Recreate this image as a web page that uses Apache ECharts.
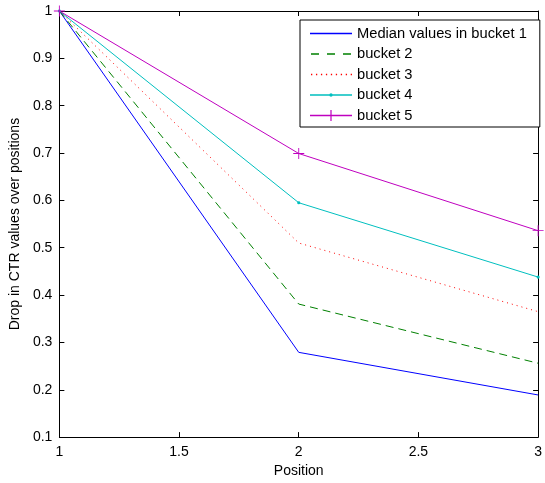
<!DOCTYPE html>
<html>
<head>
<meta charset="utf-8">
<script src="https://cdn.jsdelivr.net/npm/echarts@6/dist/echarts.min.js"></script>
<style>html,body{margin:0;padding:0;background:#fff}#c{width:545px;height:483px}</style>
</head>
<body>
<div id="c"></div>
<script>
const positions = [1, 2, 3];
const seriesNames = ['Median values in bucket 1', 'bucket 2', 'bucket 3', 'bucket 4', 'bucket 5'];
const bucket1 = [1, 0.279, 0.189];
const bucket2 = [1, 0.381, 0.256];
const bucket3 = [1, 0.510, 0.365];
const bucket4 = [1, 0.595, 0.438];
const bucket5 = [1, 0.699, 0.536];
const xTicks = [1, 1.5, 2, 2.5, 3];
const yTicks = [0.1, 0.2, 0.3, 0.4, 0.5, 0.6, 0.7, 0.8, 0.9, 1];
const colors = ['#0000ff', '#008000', '#ff0000', '#00bfbf', '#bf00bf'];
const dashes = ['solid', [8, 5], [1, 4], 'solid', 'solid'];

const FONT = 'Liberation Sans';
const plusPath = 'path://M4.6,0H5.4V4.6H10V5.4H5.4V10H4.6V5.4H0V4.6H4.6Z';
// small dot centred in a 10x10 box (zero-area corner segments keep the box size)
const dotPath = 'path://M0,0L0.001,0L0,0.001ZM10,10L9.999,10L10,9.999ZM6.6,5L6.13,6.13L5,6.6L3.87,6.13L3.4,5L3.87,3.87L5,3.4L6.13,3.87Z';
const symbols = ['none', 'none', 'none', dotPath, plusPath];
const symbolSizes = [0, 0, 0, 10, 11];
const values = [bucket1, bucket2, bucket3, bucket4, bucket5];

// ---- legend swatch icons (42 x 14 box), drawn as filled paths ----
const IW = 42, IH = 14, LT = 1.6;
function rect(x, y, w, h) { return 'M' + x + ',' + y + 'H' + (x + w) + 'V' + (y + h) + 'H' + x + 'Z'; }
const corners = 'M0,0L0.001,0L0,0.001ZM' + IW + ',' + IH + 'L' + (IW - 0.001) + ',' + IH + 'L' + IW + ',' + (IH - 0.001) + 'Z';
const cy = IH / 2 - LT / 2;
const solidLine = rect(0, cy, IW, LT);
let dashedLine = '';
[1, 17, 33].forEach(x => { dashedLine += rect(x, cy, 8, LT); });
let dottedLine = '';
for (let x = 1; x < IW; x += 5) dottedLine += rect(x, cy, 1.3, LT);
const c = IW / 2, m = IH / 2;
const legendDot = 'M' + (c + 1.8) + ',' + m + 'L' + (c + 1.27) + ',' + (m + 1.27) + 'L' + c + ',' + (m + 1.8) +
  'L' + (c - 1.27) + ',' + (m + 1.27) + 'L' + (c - 1.8) + ',' + m + 'L' + (c - 1.27) + ',' + (m - 1.27) +
  'L' + c + ',' + (m - 1.8) + 'L' + (c + 1.27) + ',' + (m - 1.27) + 'Z';
const legendPlus = rect(c - 0.6, m - 5.5, 1.2, 11) + rect(c - 5.5, cy, 11, LT);
const legendIcons = [
  'path://' + corners + solidLine,
  'path://' + corners + dashedLine,
  'path://' + corners + dottedLine,
  'path://' + corners + solidLine + legendDot,
  'path://' + corners + solidLine + legendPlus
];

function pairs(vals) { return positions.map((p, i) => [p, vals[i]]); }
const fmt = v => String(Number(v.toFixed(2)));

const axisCommon = {
  axisLine: { show: true, lineStyle: { color: '#000', width: 1 } },
  axisTick: { show: true, inside: true, length: 5, lineStyle: { color: '#000' } },
  splitLine: { show: false },
};

const chart = echarts.init(document.getElementById('c'));
chart.setOption({
  animation: false,
  backgroundColor: '#fff',
  textStyle: { fontFamily: FONT },
  grid: { left: 57, right: 3, top: 11, bottom: 42 },
  xAxis: [
    Object.assign({}, axisCommon, {
      type: 'value', min: xTicks[0], max: xTicks[xTicks.length - 1], interval: 0.5,
      position: 'bottom',
      name: 'Position', nameLocation: 'middle', nameGap: 22,
      nameTextStyle: { fontFamily: FONT, fontSize: 14, color: '#000' },
      axisLabel: { fontFamily: FONT, fontSize: 14, color: '#000', margin: 8, formatter: fmt }
    }),
    Object.assign({}, axisCommon, {
      type: 'value', min: xTicks[0], max: xTicks[xTicks.length - 1], interval: 0.5,
      position: 'top', axisLabel: { show: false }
    })
  ],
  yAxis: [
    Object.assign({}, axisCommon, {
      type: 'value', min: yTicks[0], max: yTicks[yTicks.length - 1], interval: 0.1,
      position: 'left',
      name: 'Drop in CTR values over positions', nameLocation: 'middle', nameGap: 32,
      nameTextStyle: { fontFamily: FONT, fontSize: 14, color: '#000' },
      axisLabel: { fontFamily: FONT, fontSize: 14, color: '#000', margin: 7, formatter: fmt }
    }),
    Object.assign({}, axisCommon, {
      type: 'value', min: yTicks[0], max: yTicks[yTicks.length - 1], interval: 0.1,
      position: 'right', axisLabel: { show: false }
    })
  ],
  legend: {
    orient: 'vertical', left: 300, top: 20,
    padding: [6, 13, 4, 10],
    itemWidth: IW, itemHeight: IH, itemGap: 5.5,
    backgroundColor: '#fff', borderColor: '#000', borderWidth: 1, borderRadius: 0,
    textStyle: { fontFamily: FONT, fontSize: 14.7, color: '#000' },
    data: seriesNames.map((n, i) => ({
      name: n,
      icon: legendIcons[i],
      itemStyle: { color: colors[i], borderWidth: 0 }
    }))
  },
  series: seriesNames.map((n, i) => ({
    name: n, type: 'line', data: pairs(values[i]),
    symbol: symbols[i], symbolSize: symbolSizes[i],
    lineStyle: { color: colors[i], width: 1, type: dashes[i] },
    itemStyle: { color: colors[i] }
  }))
});
</script>
</body>
</html>
